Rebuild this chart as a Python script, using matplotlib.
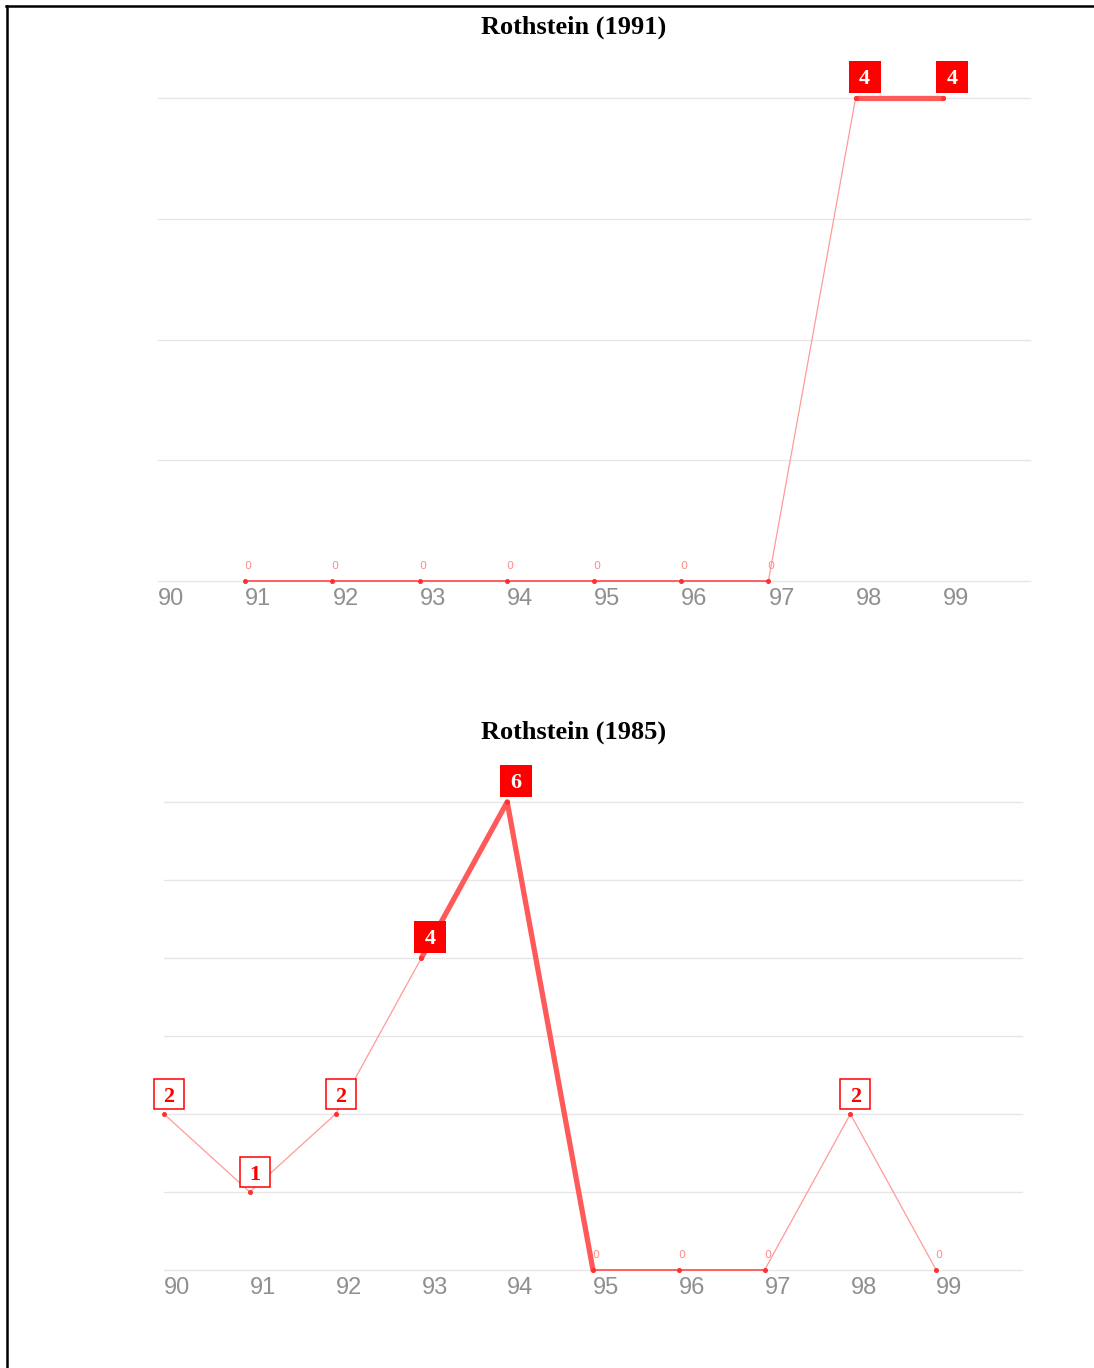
"""Two Rothstein timelines: yearly counts with boxed value labels."""

import matplotlib

matplotlib.use("Agg")
import matplotlib.pyplot as plt
from matplotlib.lines import Line2D
from matplotlib.transforms import offset_copy

YEARS = [90, 91, 92, 93, 94, 95, 96, 97, 98, 99]
YEAR_LABELS = ["90", "91", "92", "93", "94", "95", "96", "97", "98", "99"]

TITLE_1991 = "Rothstein (1991)"
COUNTS_1991 = [None, 0, 0, 0, 0, 0, 0, 0, 4, 4]
# segment i joins year i and year i+1; True = drawn heavy
HEAVY_1991 = [False, False, False, False, False, False, False, False, True]

TITLE_1985 = "Rothstein (1985)"
COUNTS_1985 = [2, 1, 2, 4, 6, 0, 0, 0, 2, 0]
HEAVY_1985 = [False, False, False, True, True, False, False, False, False]

W, H = 1094, 1368
RED = "#ff0000"
GRID = "#e6e6e6"


def label_box(fig, ax, x, v, filled):
    dx, dy = (9, 21) if filled else (5, 20)
    trans = offset_copy(ax.transData, fig=fig, x=dx, y=dy, units="dots")
    if filled:
        ax.plot([x], [v], marker="s", ms=23.5, mfc=RED, mec=RED, mew=0,
                transform=trans, zorder=6, clip_on=False)
        color = "white"
    else:
        ax.plot([x], [v], marker="s", ms=21, mfc="white", mec=RED, mew=1.1,
                transform=trans, zorder=6, clip_on=False)
        color = RED
    ax.text(x, v, str(v), transform=trans, ha="center", va="center_baseline",
            fontsize=16, fontweight="bold", color=color,
            family="Liberation Serif", zorder=7, clip_on=False)


def draw_panel(fig, rect, title, title_y, counts, heavy, ymax):
    ax = fig.add_axes(rect)
    ax.set_xlim(90, 100)
    ax.set_ylim(0, ymax)
    for s in ax.spines.values():
        s.set_visible(False)
    ax.set_yticks([])
    ax.set_xticks([])
    for v in range(ymax + 1):
        ax.axhline(v, color=GRID, lw=1.0, zorder=0, clip_on=False)

    # segments
    for i in range(len(YEARS) - 1):
        a, b = counts[i], counts[i + 1]
        if a is None or b is None:
            continue
        xs, ys = [YEARS[i], YEARS[i + 1]], [a, b]
        if heavy[i]:
            ax.plot(xs, ys, color="#ff5a5a", lw=3.8, solid_capstyle="round",
                    zorder=3, clip_on=False)
        elif a == 0 and b == 0:
            ax.plot(xs, ys, color="#ff3b3b", lw=1.1, zorder=2, clip_on=False)
        else:
            ax.plot(xs, ys, color="#ff9a9a", lw=0.9, zorder=2, clip_on=False)

    # points and labels
    for x, v in zip(YEARS, counts):
        if v is None:
            continue
        ax.plot([x], [v], "o", color="#ff3030", ms=2.6, zorder=4, clip_on=False)
        if v == 0:
            ax.annotate("0", (x, v), xytext=(2, 7), textcoords="offset points",
                        ha="center", va="bottom", fontsize=8, color="#ff8c8c",
                        family="DejaVu Sans", zorder=5, annotation_clip=False)
        else:
            label_box(fig, ax, x, v, filled=v >= 4)

    # year labels, left-aligned at each year
    for x, lab in zip(YEARS, YEAR_LABELS):
        ax.annotate(lab, (x, 0), xytext=(0, -5), textcoords="offset points",
                    ha="left", va="top", fontsize=17, color="#8f8f8f",
                    family="Liberation Sans", annotation_clip=False)

    fig.text(574 / W, title_y, title, ha="center", va="center", fontsize=19,
             fontweight="bold", family="Liberation Serif")
    return ax


def main():
    fig = plt.figure(figsize=(W / 100, H / 100), dpi=100)

    draw_panel(fig, [158 / W, 1 - 581 / H, 872 / W, 483 / H], TITLE_1991,
               1 - 27 / H, COUNTS_1991, HEAVY_1991, 4)
    draw_panel(fig, [164 / W, 1 - 1270 / H, 858 / W, 468 / H], TITLE_1985,
               1 - 732 / H, COUNTS_1985, HEAVY_1985, 6)

    # page frame (table border)
    fig.add_artist(Line2D([6 / W, 1.0], [1 - 6 / H, 1 - 6 / H], color="black",
                          lw=1.8, transform=fig.transFigure))
    fig.add_artist(Line2D([7 / W, 7 / W], [0.0, 1 - 6 / H], color="black",
                          lw=1.8, transform=fig.transFigure))

    fig.savefig("out.png", dpi=100)
    plt.close(fig)


if __name__ == "__main__":
    main()
